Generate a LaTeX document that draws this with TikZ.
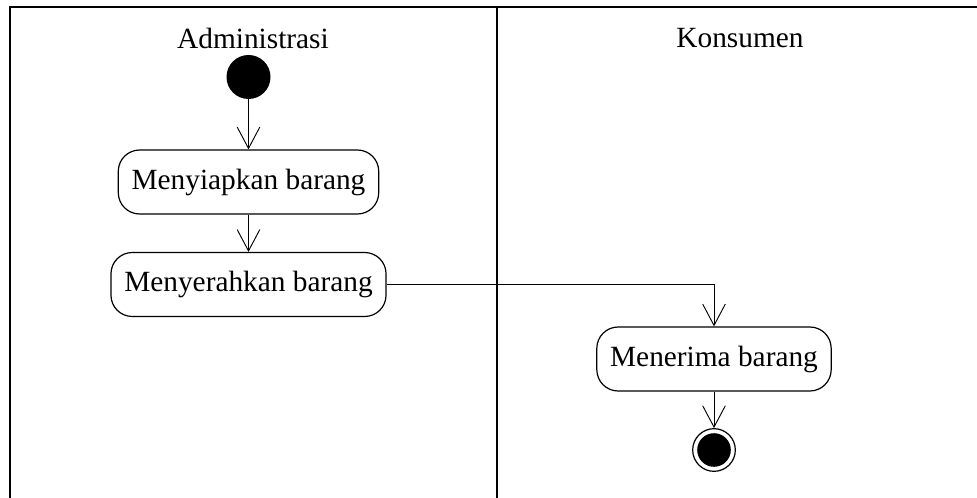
\documentclass[tikz,border=0pt]{standalone}
\usepackage{fontspec}
\setmainfont{Liberation Serif}
\usetikzlibrary{arrows.meta}
\tikzset{
  lane/.style={line width=1.3pt},
  flow/.style={line width=0.7pt, -{Straight Barb[length=16pt,width=17pt,line width=0.7pt]}},
  startnode/.style={shape=circle, fill=black, inner sep=0pt, minimum size=33pt},
  endnode/.style={shape=circle, draw=black, line width=0.9pt, inner sep=0pt, minimum size=32pt,
    path picture={\fill[black] (path picture bounding box.center) circle (12.6pt);}},
  actbox/.style={draw=black, line width=0.9pt, rounded corners=16pt, inner xsep=10pt,
    minimum height=48pt, font=\fontsize{22}{26}\selectfont},
  lanetitle/.style={font=\fontsize{22}{26}\selectfont}
}
\begin{document}
\begin{tikzpicture}[x=0.75pt,y=-0.75pt]
        \useasboundingbox (0,0) rectangle (977,498);
        % lanes
        \draw[lane] (10,498) -- (10,7) -- (977,7);
        \draw[lane] (497,7) -- (497,498);
        \node[lanetitle] (admin) at (253,38) {Administrasi};
        \node[lanetitle] (konsumen) at (740,38) {Konsumen};

        % Administrasi
        \node[startnode] (start) at (248.5,77) {};
        \node[actbox] (siapkan) at (248.5,182) {Menyiapkan barang};
        \node[actbox] (serahkan) at (248.5,284.5) {Menyerahkan barang};

        % Konsumen
        \node[actbox] (terima) at (714,359) {Menerima barang};
        \node[endnode] (selesai) at (714,450) {};

        % arrows
        \draw[flow] (start) -- (siapkan);
        \draw[flow] (siapkan) -- (serahkan);
        \draw[flow] (serahkan.east) -| (terima.north);
        \draw[flow] (terima) -- (selesai);
    \end{tikzpicture}
\end{document}
